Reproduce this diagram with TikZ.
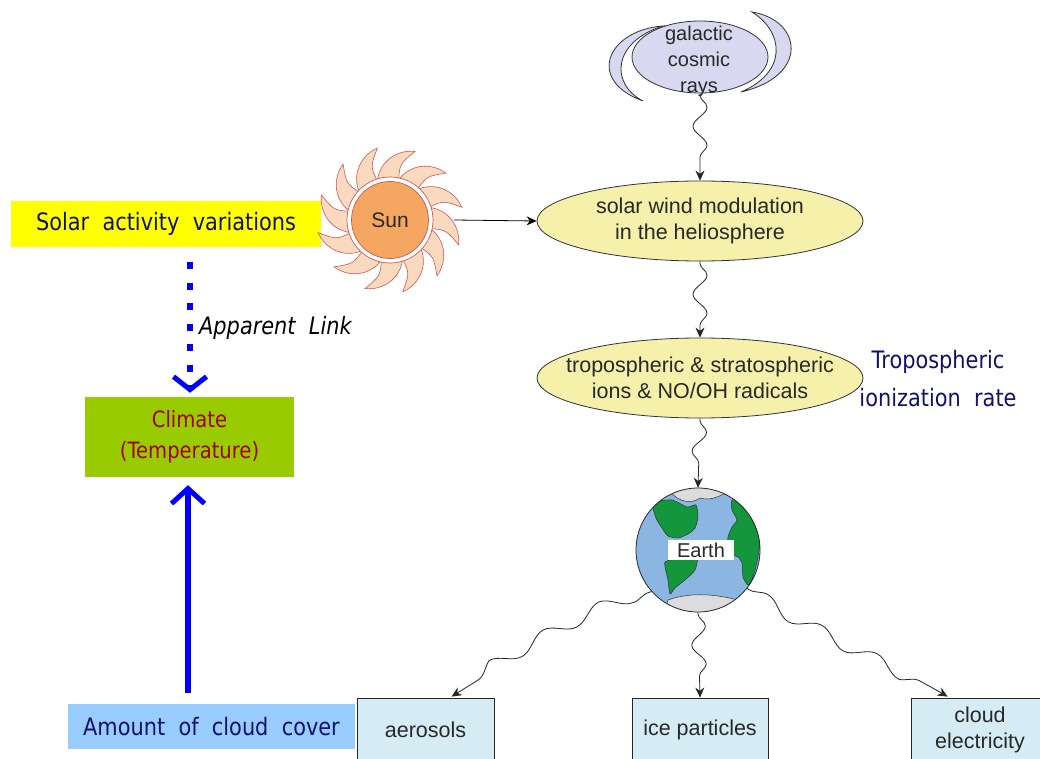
\documentclass[tikz,border=0pt]{standalone}
\usepackage{fontspec}
\setmainfont{Liberation Sans}
\newfontfamily\tahoma[FakeStretch=0.87]{DejaVu Sans}
\usetikzlibrary{shapes.geometric, arrows.meta, decorations.pathmorphing, calc}
\definecolor{navytxt}{RGB}{16,16,110}
\definecolor{climred}{RGB}{160,0,0}
\definecolor{solaryellow}{RGB}{255,255,0}
\definecolor{climgreen}{RGB}{153,204,0}
\definecolor{cloudblue}{RGB}{153,204,255}
\definecolor{lav}{RGB}{216,216,240}
\definecolor{ellyel}{RGB}{245,240,170}
\definecolor{boxblue}{RGB}{214,236,244}
\definecolor{sunorange}{RGB}{245,166,96}
\definecolor{sunray}{RGB}{250,218,190}
\definecolor{sunline}{RGB}{200,90,90}
\definecolor{earthblue}{RGB}{140,182,226}
\definecolor{earthgreen}{RGB}{20,150,60}
\definecolor{capgray}{RGB}{220,220,222}
\definecolor{diagtxt}{RGB}{40,40,40}
\newcommand\diagfont{\fontsize{21.5}{26.5}\selectfont}
\tikzset{
  tbox/.style={inner sep=0pt, font=\tahoma\fontsize{24}{29}\selectfont, text=navytxt},
  oval/.style={ellipse, draw=black!80, line width=0.8pt, fill=ellyel, minimum width=326pt, minimum height=80pt, inner sep=0pt},
  ovaltext/.style={align=center, font=\diagfont, text=diagtxt, inner sep=0pt},
  leaf/.style={draw=black!85, line width=0.8pt, fill=boxblue, minimum height=64pt, align=center, font=\diagfont, text=diagtxt, inner sep=0pt},
  snk/.style={draw=black!85, line width=0.8pt, decorate, decoration={snake, amplitude=7pt, segment length=38pt, pre length=2pt, post length=9pt}, -{Stealth[length=10pt,width=9pt]}},
  snklong/.style={snk, decoration={snake, amplitude=6.5pt, segment length=62pt, pre length=2pt, post length=9pt}},
  bluedot/.style={draw=blue, line width=6.5pt, dash pattern=on 7pt off 13.5pt, -{Straight Barb[length=13pt,width=33pt,line width=5pt]}},
  blueline/.style={draw=blue, line width=6pt, -{Straight Barb[length=15pt,width=33pt,line width=5pt]}},
}
\begin{document}
\begin{tikzpicture}[x=1pt,y=-1pt]
\useasboundingbox (0,0) rectangle (1040,759);
\fill[white] (0,0) rectangle (1040,759);
\clip (0,0) rectangle (1040,759);

% ---- left column ----
\node[tbox, fill=solaryellow, minimum width=310pt, minimum height=46pt] (solar) at (166,224) {Solar\ \ activity\ \ variations};
\node[tbox, fill=climgreen, text=climred, minimum width=209pt, minimum height=80pt, align=center, font=\tahoma\fontsize{22.5}{31}\selectfont] (climate) at (189.5,437) {Climate\\(Temperature)};
\node[tbox, fill=cloudblue, minimum width=287pt, minimum height=45pt] (cloud) at (211.5,726.5) {Amount\ \ of\ \ cloud\ \ cover};
\draw[bluedot] ($(solar.south -| 190,0)+(0,15)$) -- ($(climate.north -| 190,0)+(0,-4)$);
\node[anchor=west, inner sep=0pt, font=\tahoma\itshape\fontsize{24}{28}\selectfont] (link) at (199,328) {Apparent\ \ Link};
\draw[blueline] ($(cloud.north -| 188,0)+(0,-11)$) -- ($(climate.south -| 188,0)+(0,8)$);

% ---- galactic cosmic rays ----
\node[ellipse, draw=black!80, line width=0.8pt, fill=lav, minimum width=136pt, minimum height=72pt, inner sep=0pt] (gcr) at (700,57) {};
\filldraw[fill=lav, draw=black!80, line width=0.8pt] (663,26) .. controls (608,30) and (585,80) .. (643,101) .. controls (610,84) and (612,42) .. cycle;
\filldraw[fill=lav, draw=black!80, line width=0.8pt] (752,12) .. controls (802,20) and (810,76) .. (741,92) .. controls (788,72) and (784,32) .. cycle;
\node[align=center, font=\fontsize{20}{26}\selectfont, text=diagtxt, inner sep=0pt] (gcrtxt) at (699,61) {galactic\\cosmic\\rays};

% ---- sun ----
\begin{scope}[shift={(390,220)}, yscale=-1]
  \foreach \a in {0,30,...,330} {
    \filldraw[fill=sunray, draw=sunline, line width=0.6pt] ({\a+48}:41) .. controls ({\a+40}:60) and ({\a+24}:71) .. ({\a+10}:73) .. controls ({\a+20}:57) .. ({\a+18}:41) -- cycle;
  }
  \filldraw[fill=white, draw=sunline, line width=0.7pt] (0,0) circle (43);
  \filldraw[fill=sunorange, draw=sunline, line width=0.7pt] (0,0) circle (38.5);
\end{scope}
\node[circle, minimum size=128pt, inner sep=0pt, font=\fontsize{21}{25}\selectfont, text=diagtxt] (sun) at (390,220) {Sun};

% ---- ovals ----
\node[oval] (wind) at (700,221) {};
\node[ovaltext] (windtxt) at (wind) {solar wind modulation\\in the heliosphere};
\node[oval] (tropo) at (700,378) {};
\node[ovaltext] (tropotxt) at (tropo) {tropospheric \& stratospheric\\ions \& NO/OH radicals};
\node[tbox, align=center, font=\tahoma\fontsize{24}{38}\selectfont] (rate) at (938,379) {Tropospheric\\ionization\ \ rate};

\draw[draw=black, line width=0.8pt, -{Stealth[length=10pt,width=9pt]}] (sun.east) -- (wind.west);
\draw[snk] (gcr.south) -- (wind.north);
\draw[snk] (wind.south) -- (tropo.north);

% ---- earth ----
\node[circle, minimum size=124pt, inner sep=0pt, fill=earthblue] (earth) at (698,550) {};
\begin{scope}
  \clip (698,550) circle (62pt);
  \filldraw[fill=capgray, draw=black!80, line width=0.5pt] (655,470) -- (668,486) .. controls (672,500) and (690,506) .. (700,498) .. controls (712,502) and (725,494) .. (736,486) -- (745,470) -- cycle;
  \filldraw[fill=capgray, draw=black!80, line width=0.5pt] (660,630) -- (668,600) .. controls (690,592) and (715,594) .. (738,600) -- (745,630) -- cycle;
  \filldraw[fill=earthgreen, draw=black!80, line width=0.5pt] plot[smooth cycle, tension=0.4] coordinates {(653,503) (672,500) (687,507) (696,505) (698,517) (695,528) (688,534) (678,538) (668,536) (662,528) (656,518)};
  \filldraw[fill=earthgreen, draw=black!80, line width=0.5pt] plot[smooth cycle, tension=0.4] coordinates {(665,562) (681,559) (697,557) (695,570) (685,580) (675,588) (670,594) (668,580)};
  \filldraw[fill=earthgreen, draw=black!80, line width=0.5pt] plot[smooth cycle, tension=0.4] coordinates {(732,500) (740,499) (743,507) (748,512) (757,520) (759,532) (760,543) (757,562) (753,577) (748,585) (743,577) (742,563) (738,557) (733,555) (728,547) (728,537) (732,527) (737,520) (732,510)};
\end{scope}
\draw[black!85, line width=0.8pt] (earth) circle (62pt);
\node[fill=white, inner sep=0pt, minimum width=66pt, minimum height=20pt, font=\fontsize{20}{24}\selectfont, text=diagtxt] (earthtxt) at (701,550) {Earth};
\draw[snk] (tropo.south) -- (earth.north);

% ---- bottom boxes ----
\node[leaf, minimum width=137pt] (aer) at (425.5,730) {aerosols};
\node[leaf, minimum width=136pt] (ice) at (700,730) {ice particles};
\node[leaf, minimum width=138pt] (cel) at (980,730) {cloud\\electricity};
\draw[snklong] (earth.222) .. controls (610,600) and (490,672) .. ($(aer.north west)+(95,-1)$);
\draw[snk] (earth.south) -- (ice.north);
\draw[snklong] (earth.322) .. controls (790,618) and (900,668) .. ($(cel.north west)+(37,-1)$);
\end{tikzpicture}
\end{document}
